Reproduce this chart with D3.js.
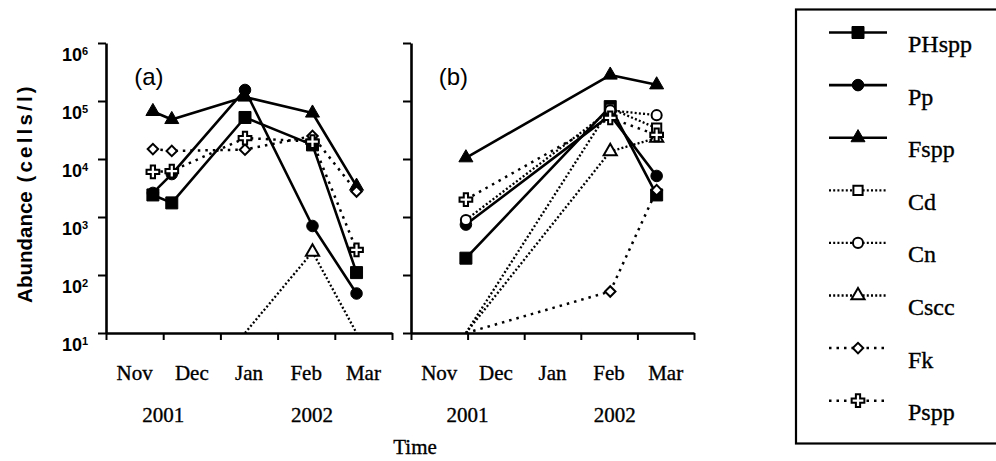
<!DOCTYPE html>
<html><head><meta charset="utf-8">
<script src="https://cdn.jsdelivr.net/npm/d3@7"></script>
<style>body{margin:0;background:#fff} svg{display:block}</style>
</head><body>
<svg id="chart" width="996" height="461"></svg>
<script>
// ---------- data ----------
const months = ["Nov", "Dec", "Jan", "Feb", "Mar"];
const years = ["2001", "2002"];
const yearPos = [1.0, 3.6];               // month index where each year label sits
const yTicks = [10, 100, 1000, 10000, 100000, 1000000];
const seriesNames = ["PHspp", "Pp", "Fspp", "Cd", "Cn", "Cscc", "Fk", "Pspp"];
const panelLabels = ["(a)", "(b)"];
// sampling times, in months since 1 Nov 2001
const timesA = [0.82, 1.15, 2.43, 3.61, 4.38];
const timesB = [0.97, 3.52, 4.34];
// abundance (cells/l); 0 = not detected (drawn at the axis floor), null = no line shown
const PHsppA = [2400, 1750, 52000, 17500, 110];
const PpA    = [2600, 5500, 155000, 700, 48];
const FsppA  = [66000, 48000, 117000, 62000, 3400];
const CdA    = [null, null, null, null, null];
const CnA    = [null, null, null, null, null];
const CsccA  = [null, null, 0, 250, 0];
const FkA    = [14800, 13800, 14500, 25000, 2750];
const PsppA  = [6000, 6200, 23000, 20000, 270];
const PHsppB = [195, 80000, 2400];
const PpB    = [740, 57000, 5100];
const FsppB  = [10500, 280000, 190000];
const CdB    = [0, 75000, 34000];
const CnB    = [890, 69000, 57000];
const CsccB  = [0, 13500, 23000];
const FkB    = [0, 52, 2900];
const PsppB  = [2000, 51000, 26000];

const dataA = [PHsppA, PpA, FsppA, CdA, CnA, CsccA, FkA, PsppA];
const dataB = [PHsppB, PpB, FsppB, CdB, CnB, CsccB, FkB, PsppB];

// ---------- styles ----------
const lineStyle = ["solid","solid","solid","dense","dense","dense","sparse","sparse"];
const markerType = [
  {sym: d3.symbolSquare, size: 144, fill: "#000", rot: 0},
  {sym: d3.symbolCircle, size: 105, fill: "#000", rot: 0},
  {sym: d3.symbolTriangle, size: 85, fill: "#000", rot: 0},
  {sym: d3.symbolSquare, size: 85, fill: "#fff", rot: 0},
  {sym: d3.symbolCircle, size: 80, fill: "#fff", rot: 0},
  {sym: d3.symbolTriangle, size: 75, fill: "#fff", rot: 0},
  {sym: d3.symbolSquare, size: 55, fill: "#fff", rot: 45},
  {sym: d3.symbolCross, size: 90, fill: "#fff", rot: 0}
];
function applyLine(sel, st) {
  if (st === "solid") sel.attr("stroke-width", 2.6);
  else if (st === "dense") sel.attr("stroke-width", 2.3).attr("stroke-dasharray", "2,2.2");
  else sel.attr("stroke-width", 2.5).attr("stroke-dasharray", "2.5,5");
}

const svg = d3.select("#chart");
const serif = "'Liberation Serif','Times New Roman',serif";
const sans = "'Liberation Sans',Arial,sans-serif";

const y = d3.scaleLog().domain([10, 1e6]).range([333, 43]).clamp(true);
const yv = v => y(Math.max(v, 10));

const panels = [
  {x0: 106, x1: 392, times: timesA, data: dataA, yLabels: true},
  {x0: 411, x1: 694, times: timesB, data: dataB, yLabels: false}
];

function serifText(sel) {
  return sel.attr("font-family", serif).attr("stroke", "#000").attr("stroke-width", 0.35);
}

panels.forEach((p, pi) => {
  const x = d3.scaleLinear().domain([0, 5]).range([p.x0, p.x1]);
  const g = svg.append("g");

  // series lines
  p.data.forEach((vals, si) => {
    const pts = vals.map((v, i) => ({t: p.times[i], v}));
    const line = d3.line().defined(d => d.v !== null).x(d => x(d.t)).y(d => yv(d.v));
    const path = g.append("path")
      .attr("d", line(pts))
      .attr("fill", "none").attr("stroke", "#000")
      .attr("stroke-linejoin", "round");
    applyLine(path, lineStyle[si]);
  });
  // markers (only for detected values)
  p.data.forEach((vals, si) => {
    const m = markerType[si];
    vals.forEach((v, i) => {
      if (v === null || !(v > 10)) return;
      g.append("path")
        .attr("d", d3.symbol(m.sym, m.size)())
        .attr("transform", `translate(${x(p.times[i])},${yv(v)}) rotate(${m.rot})`)
        .attr("fill", m.fill).attr("stroke", "#000")
        .attr("stroke-width", m.fill === "#fff" ? 2 : 1);
    });
  });

  // axes
  const ax = g.append("g").attr("transform", "translate(0,333)")
    .call(d3.axisBottom(x).tickValues([0,1,2,3,4,5]).tickSize(7).tickSizeOuter(0).tickFormat(""));
  const ay = g.append("g").attr("transform", `translate(${p.x0},0)`)
    .call(d3.axisLeft(y).tickValues(yTicks).tickSize(8).tickSizeOuter(0).tickFormat(""));
  [ax, ay].forEach(a => {
    a.select(".domain").attr("stroke-width", 2.6);
    a.selectAll(".tick line").attr("stroke-width", 2);
  });

  // y tick labels
  if (p.yLabels) {
    yTicks.forEach(t => {
      const ty = y(t);
      g.append("text").attr("x", 82).attr("y", ty + 18)
        .attr("text-anchor", "end").attr("font-family", sans)
        .attr("font-weight", "bold").attr("font-size", 18).text("10");
      g.append("text").attr("x", 82).attr("y", ty + 12)
        .attr("font-family", sans).attr("font-weight", "bold")
        .attr("font-size", 11).text(String(Math.round(Math.log10(t))));
    });
  }

  // month labels
  months.forEach((mName, i) => {
    serifText(g.append("text")).attr("x", x(i + 0.5)).attr("y", 380)
      .attr("text-anchor", "middle").attr("font-size", 21).text(mName);
  });
  years.forEach((yr, i) => {
    serifText(g.append("text")).attr("x", x(yearPos[i])).attr("y", 422)
      .attr("text-anchor", "middle").attr("font-size", 21).text(yr);
  });

  // panel label
  g.append("text").attr("x", x(0.75)).attr("y", 85)
    .attr("text-anchor", "middle").attr("font-family", sans)
    .attr("font-size", 24).text(panelLabels[pi]);
});

// y-axis title
const yt = svg.append("text")
  .attr("transform", "translate(32,193) rotate(-90)")
  .attr("text-anchor", "middle").attr("font-family", sans)
  .attr("font-weight", "bold").attr("font-size", 20.5);
yt.append("tspan").text("Abundance ");
yt.append("tspan").attr("dx", 3).attr("letter-spacing", 3.2).text("(cells/l)");

// x-axis title
serifText(svg.append("text")).attr("x", 415).attr("y", 454)
  .attr("text-anchor", "middle").attr("font-size", 21).text("Time");

// ---------- legend ----------
const lg = svg.append("g");
lg.append("rect").attr("x", 796).attr("y", 9.5).attr("width", 240).attr("height", 434)
  .attr("fill", "none").attr("stroke", "#000").attr("stroke-width", 2.2);
seriesNames.forEach((name, si) => {
  const base = 52 + si * 52.6;
  const sy = base - 19.5;
  const ln = lg.append("line").attr("x1", 829).attr("x2", 887)
    .attr("y1", sy).attr("y2", sy).attr("stroke", "#000");
  applyLine(ln, lineStyle[si]);
  const m = markerType[si];
  lg.append("path").attr("d", d3.symbol(m.sym, m.size)())
    .attr("transform", `translate(858,${sy}) rotate(${m.rot})`)
    .attr("fill", m.fill).attr("stroke", "#000")
    .attr("stroke-width", m.fill === "#fff" ? 2 : 1);
  serifText(lg.append("text")).attr("x", 908).attr("y", base)
    .attr("font-size", 24).text(name);
});
</script>
</body></html>
